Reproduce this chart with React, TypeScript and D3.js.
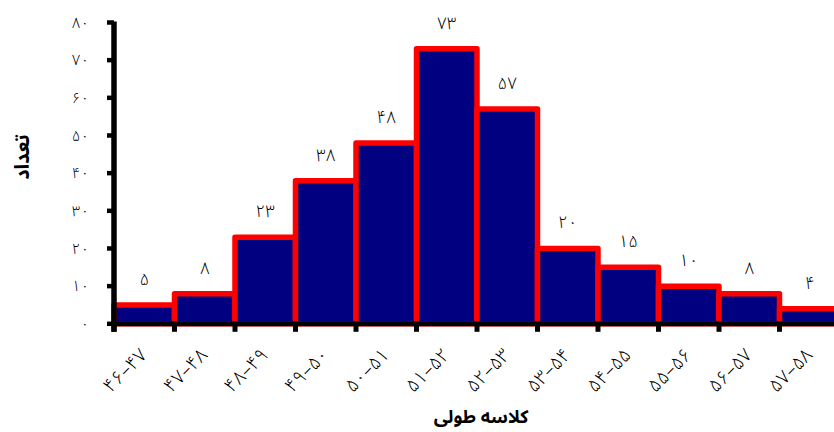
import React from "react";
import * as d3 from "d3";

const categories = ["46-47", "47-48", "48-49", "49-50", "50-51", "51-52", "52-53", "53-54", "54-55", "55-56", "56-57", "57-58"];
const counts = [5, 8, 23, 38, 48, 73, 57, 20, 15, 10, 8, 4];
const yTicks = [0, 10, 20, 30, 40, 50, 60, 70, 80];
const yTitle = "تعداد";
const xTitle = "کلاسه طولی";

const faDigits = "۰۱۲۳۴۵۶۷۸۹";
const fa = (s: string | number) => String(s).replace(/[0-9]/g, (d) => faDigits[+d]).replace(/-/g, "–");

const W = 834, H = 432;
const left = 114, right = 840, top = 22.5, zero = 323.8;

export default function App() {
  const x = d3.scaleBand<string>().domain(categories).range([left, right]).padding(0);
  const y = d3.scaleLinear().domain([0, 80]).range([zero, top]);
  const bw = x.bandwidth();
  const font = "'Noto Sans Arabic', 'DejaVu Sans', sans-serif";
  return (
    <>
      <style>{`body{margin:0}`}</style>
      <svg width={W} height={H} style={{ display: "block", background: "#fff" }} fontFamily={font}>
        {categories.map((c, i) => (
          <rect key={c} x={x(c)!} y={y(counts[i])} width={bw} height={zero - y(counts[i])}
            fill="#000080" stroke="#FF0000" strokeWidth={5.5} strokeLinejoin="round" />
        ))}
        {categories.map((c, i) => (
          <text key={"v" + c} x={x(c)! + bw / 2} y={y(counts[i]) - 20} textAnchor="middle" fontSize={17} fontWeight={300} fill="#000">
            {fa(counts[i])}
          </text>
        ))}
        {/* y axis */}
        <line x1={left} x2={left} y1={top - 1} y2={zero + 8} stroke="#000" strokeWidth={5.5} />
        {yTicks.map((t) => (
          <g key={t}>
            <line x1={left - 7} x2={left} y1={y(t)} y2={y(t)} stroke="#000" strokeWidth={4.5} />
            <text x={89} y={y(t)} dy="0.35em" textAnchor="end" fontSize={15} fontWeight={300} fill="#000">{fa(t)}</text>
          </g>
        ))}
        {/* x axis */}
        <line x1={left} x2={W} y1={zero} y2={zero} stroke="#000" strokeWidth={5} />
        {[...categories.map((c) => x(c)!), right].map((px, i) => (
          <line key={"t" + i} x1={px} x2={px} y1={zero} y2={zero + 8} stroke="#000" strokeWidth={5} />
        ))}
        {categories.map((c) => {
          const cx = x(c)! + bw / 2 + 4;
          const cy = 356;
          return (
            <text key={"l" + c} transform={`translate(${cx},${cy}) rotate(-45)`} textAnchor="end" fontSize={19} fontWeight={300} fill="#000">
              {fa(c)}
            </text>
          );
        })}
        <text transform={`translate(29,157) rotate(-90)`} textAnchor="middle" fontSize={20} fontWeight="bold" fill="#000">{yTitle}</text>
        <text x={481} y={423} textAnchor="middle" fontSize={18} fontWeight="bold" fill="#000">{xTitle}</text>
      </svg>
    </>
  );
}
